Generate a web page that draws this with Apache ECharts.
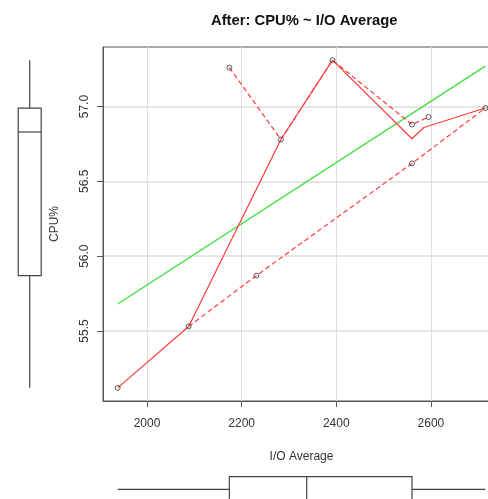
<!DOCTYPE html>
<html lang="en">
<head>
<meta charset="UTF-8">
<title>After: CPU% ~ I/O Average</title>
<script src="https://cdn.jsdelivr.net/npm/echarts@6/dist/echarts.min.js"></script>
<style>
  html, body { margin: 0; padding: 0; background: #fff; }
  #chart { width: 488px; height: 499px; }
</style>
</head>
<body>
<div id="chart"></div>
<script>
// observed points
const ioAvg  = [1938, 2088, 2174, 2231, 2283, 2392, 2560, 2560, 2595, 2715];
const cpuPct = [55.12, 55.53, 57.26, 55.87, 56.78, 57.31, 56.88, 56.62, 56.93, 56.99];

// linear fit (green)
const fitX = [1938, 2715];
const fitY = [55.68, 57.27];

// smoother (solid red) and its spread (dashed red)
const smoothX = [1938, 2088, 2283, 2392, 2560, 2585, 2715];
const smoothY = [55.12, 55.53, 56.78, 57.31, 56.785, 56.86, 56.99];
const upperX  = [2174, 2283, 2392, 2560, 2595];
const upperY  = [57.26, 56.78, 57.31, 56.88, 56.93];
const lowerX  = [2088, 2231, 2560, 2715];
const lowerY  = [55.53, 55.87, 56.62, 56.99];

const xTicks = [2000, 2200, 2400, 2600];
const yTicks = [55.5, 56.0, 56.5, 57.0];

const X_MIN = 1907, X_MAX = 2746;
const Y_MIN = 55.032, Y_MAX = 57.398;

function zip(a, b) { return a.map((v, i) => [v, b[i]]); }

// Tukey five-number summary, same as R's fivenum
function fivenum(arr) {
  const s = arr.slice().sort((a, b) => a - b);
  const n = s.length;
  const n4 = Math.floor((n + 3) / 2) / 2;
  const d = [1, n4, (n + 1) / 2, n + 1 - n4, n];
  return d.map(v => 0.5 * (s[Math.floor(v) - 1] + s[Math.ceil(v) - 1]));
}

const boxStyle = { stroke: '#444', fill: 'none', lineWidth: 1.2 };

function vBox(params, api) {
  const c = api.value(0);
  const lo = api.coord([c, api.value(1)]);
  const q1 = api.coord([c, api.value(2)]);
  const md = api.coord([c, api.value(3)]);
  const q3 = api.coord([c, api.value(4)]);
  const hi = api.coord([c, api.value(5)]);
  const hw = 11.5;
  return { type: 'group', children: [
    { type: 'line', shape: { x1: lo[0], y1: lo[1], x2: q1[0], y2: q1[1] }, style: boxStyle },
    { type: 'line', shape: { x1: q3[0], y1: q3[1], x2: hi[0], y2: hi[1] }, style: boxStyle },
    { type: 'rect', shape: { x: q3[0] - hw, y: q3[1], width: 2 * hw, height: q1[1] - q3[1] }, style: boxStyle },
    { type: 'line', shape: { x1: md[0] - hw, y1: md[1], x2: md[0] + hw, y2: md[1] }, style: boxStyle }
  ]};
}

function hBox(params, api) {
  const c = api.value(0);
  const lo = api.coord([api.value(1), c]);
  const q1 = api.coord([api.value(2), c]);
  const md = api.coord([api.value(3), c]);
  const q3 = api.coord([api.value(4), c]);
  const hi = api.coord([api.value(5), c]);
  const hh = 12.6;
  return { type: 'group', children: [
    { type: 'line', shape: { x1: lo[0], y1: lo[1], x2: q1[0], y2: q1[1] }, style: boxStyle },
    { type: 'line', shape: { x1: q3[0], y1: q3[1], x2: hi[0], y2: hi[1] }, style: boxStyle },
    { type: 'rect', shape: { x: q1[0], y: q1[1] - hh, width: q3[0] - q1[0], height: 2 * hh }, style: boxStyle },
    { type: 'line', shape: { x1: md[0], y1: md[1] - hh, x2: md[0], y2: md[1] + hh }, style: boxStyle }
  ]};
}

const font = 'Liberation Sans, Arial, sans-serif';
const red = '#ff3b3b';

let chart = echarts.init(document.getElementById('chart'));

chart.setOption({
  animation: false,
  backgroundColor: '#fff',
  title: {
    text: 'After: CPU% ~ I/O Average',
    left: 206, top: 8,
    textStyle: { fontSize: 14.8, fontWeight: 'bold', color: '#111', fontFamily: font }
  },
  grid: [
    { left: 103, top: 47, width: 397, height: 354, show: true, borderColor: '#555', borderWidth: 1,
      outerBoundsMode: 'none' },
    { left: 0, top: 47, width: 59.4, height: 354, outerBoundsMode: 'none' },
    { left: 103, top: 465, width: 397, height: 48.6, outerBoundsMode: 'none' }
  ],
  xAxis: [
    {
      gridIndex: 0, type: 'value', min: X_MIN, max: X_MAX,
      axisLine: { show: true, lineStyle: { color: '#555' } },
      axisTick: { show: true, length: 6, customValues: xTicks, lineStyle: { color: '#555' } },
      axisLabel: { customValues: xTicks, margin: 17, color: '#333', fontSize: 12, fontFamily: font,
                   formatter: v => String(v) },
      splitLine: { show: true, lineStyle: { color: '#dedede', width: 1 } },
      name: 'I/O Average', nameLocation: 'middle', nameGap: 50,
      nameTextStyle: { color: '#333', fontSize: 12, fontFamily: font }
    },
    { gridIndex: 1, type: 'value', min: 0, max: 1, show: false },
    { gridIndex: 2, type: 'value', min: X_MIN, max: X_MAX, show: false }
  ],
  yAxis: [
    {
      gridIndex: 0, type: 'value', min: Y_MIN, max: Y_MAX,
      axisLine: { show: true, lineStyle: { color: '#555' } },
      axisTick: { show: true, length: 6, customValues: yTicks, lineStyle: { color: '#555' } },
      axisLabel: { customValues: yTicks, rotate: 90, margin: 12, color: '#333', fontSize: 12, fontFamily: font,
                   formatter: v => v.toFixed(1) },
      splitLine: { show: true, lineStyle: { color: '#dedede', width: 1.5 } },
      name: 'CPU%', nameLocation: 'middle', nameGap: 42, nameRotate: 90,
      nameTextStyle: { color: '#333', fontSize: 12, fontFamily: font }
    },
    { gridIndex: 1, type: 'value', min: Y_MIN, max: Y_MAX, show: false },
    { gridIndex: 2, type: 'value', min: 0, max: 1, show: false }
  ],
  series: [
    {
      type: 'line', xAxisIndex: 0, yAxisIndex: 0, z: 2,
      data: zip(fitX, fitY), showSymbol: false, silent: true,
      lineStyle: { color: '#3fdd3f', width: 1.3 }
    },
    {
      type: 'line', xAxisIndex: 0, yAxisIndex: 0, z: 3,
      data: zip(smoothX, smoothY), showSymbol: false, silent: true,
      lineStyle: { color: red, width: 1.2 }
    },
    {
      type: 'line', xAxisIndex: 0, yAxisIndex: 0, z: 3,
      data: zip(upperX, upperY), showSymbol: false, silent: true,
      lineStyle: { color: red, width: 1.2, type: [5, 3] }
    },
    {
      type: 'line', xAxisIndex: 0, yAxisIndex: 0, z: 3,
      data: zip(lowerX, lowerY), showSymbol: false, silent: true,
      lineStyle: { color: red, width: 1.2, type: [5, 3] }
    },
    {
      type: 'scatter', xAxisIndex: 0, yAxisIndex: 0, z: 5,
      data: zip(ioAvg, cpuPct), symbol: 'circle', symbolSize: 5,
      itemStyle: { color: 'rgba(255,255,255,0)', borderColor: '#333', borderWidth: 1 }
    },
    {
      type: 'custom', xAxisIndex: 1, yAxisIndex: 1, renderItem: vBox,
      encode: { x: 0, y: [1, 2, 3, 4, 5] },
      data: [[0.5].concat(fivenum(cpuPct))]
    },
    {
      type: 'custom', xAxisIndex: 2, yAxisIndex: 2, renderItem: hBox,
      encode: { x: [1, 2, 3, 4, 5], y: 0 },
      data: [[0.5].concat(fivenum(ioAvg))]
    }
  ]
});
</script>
</body>
</html>
